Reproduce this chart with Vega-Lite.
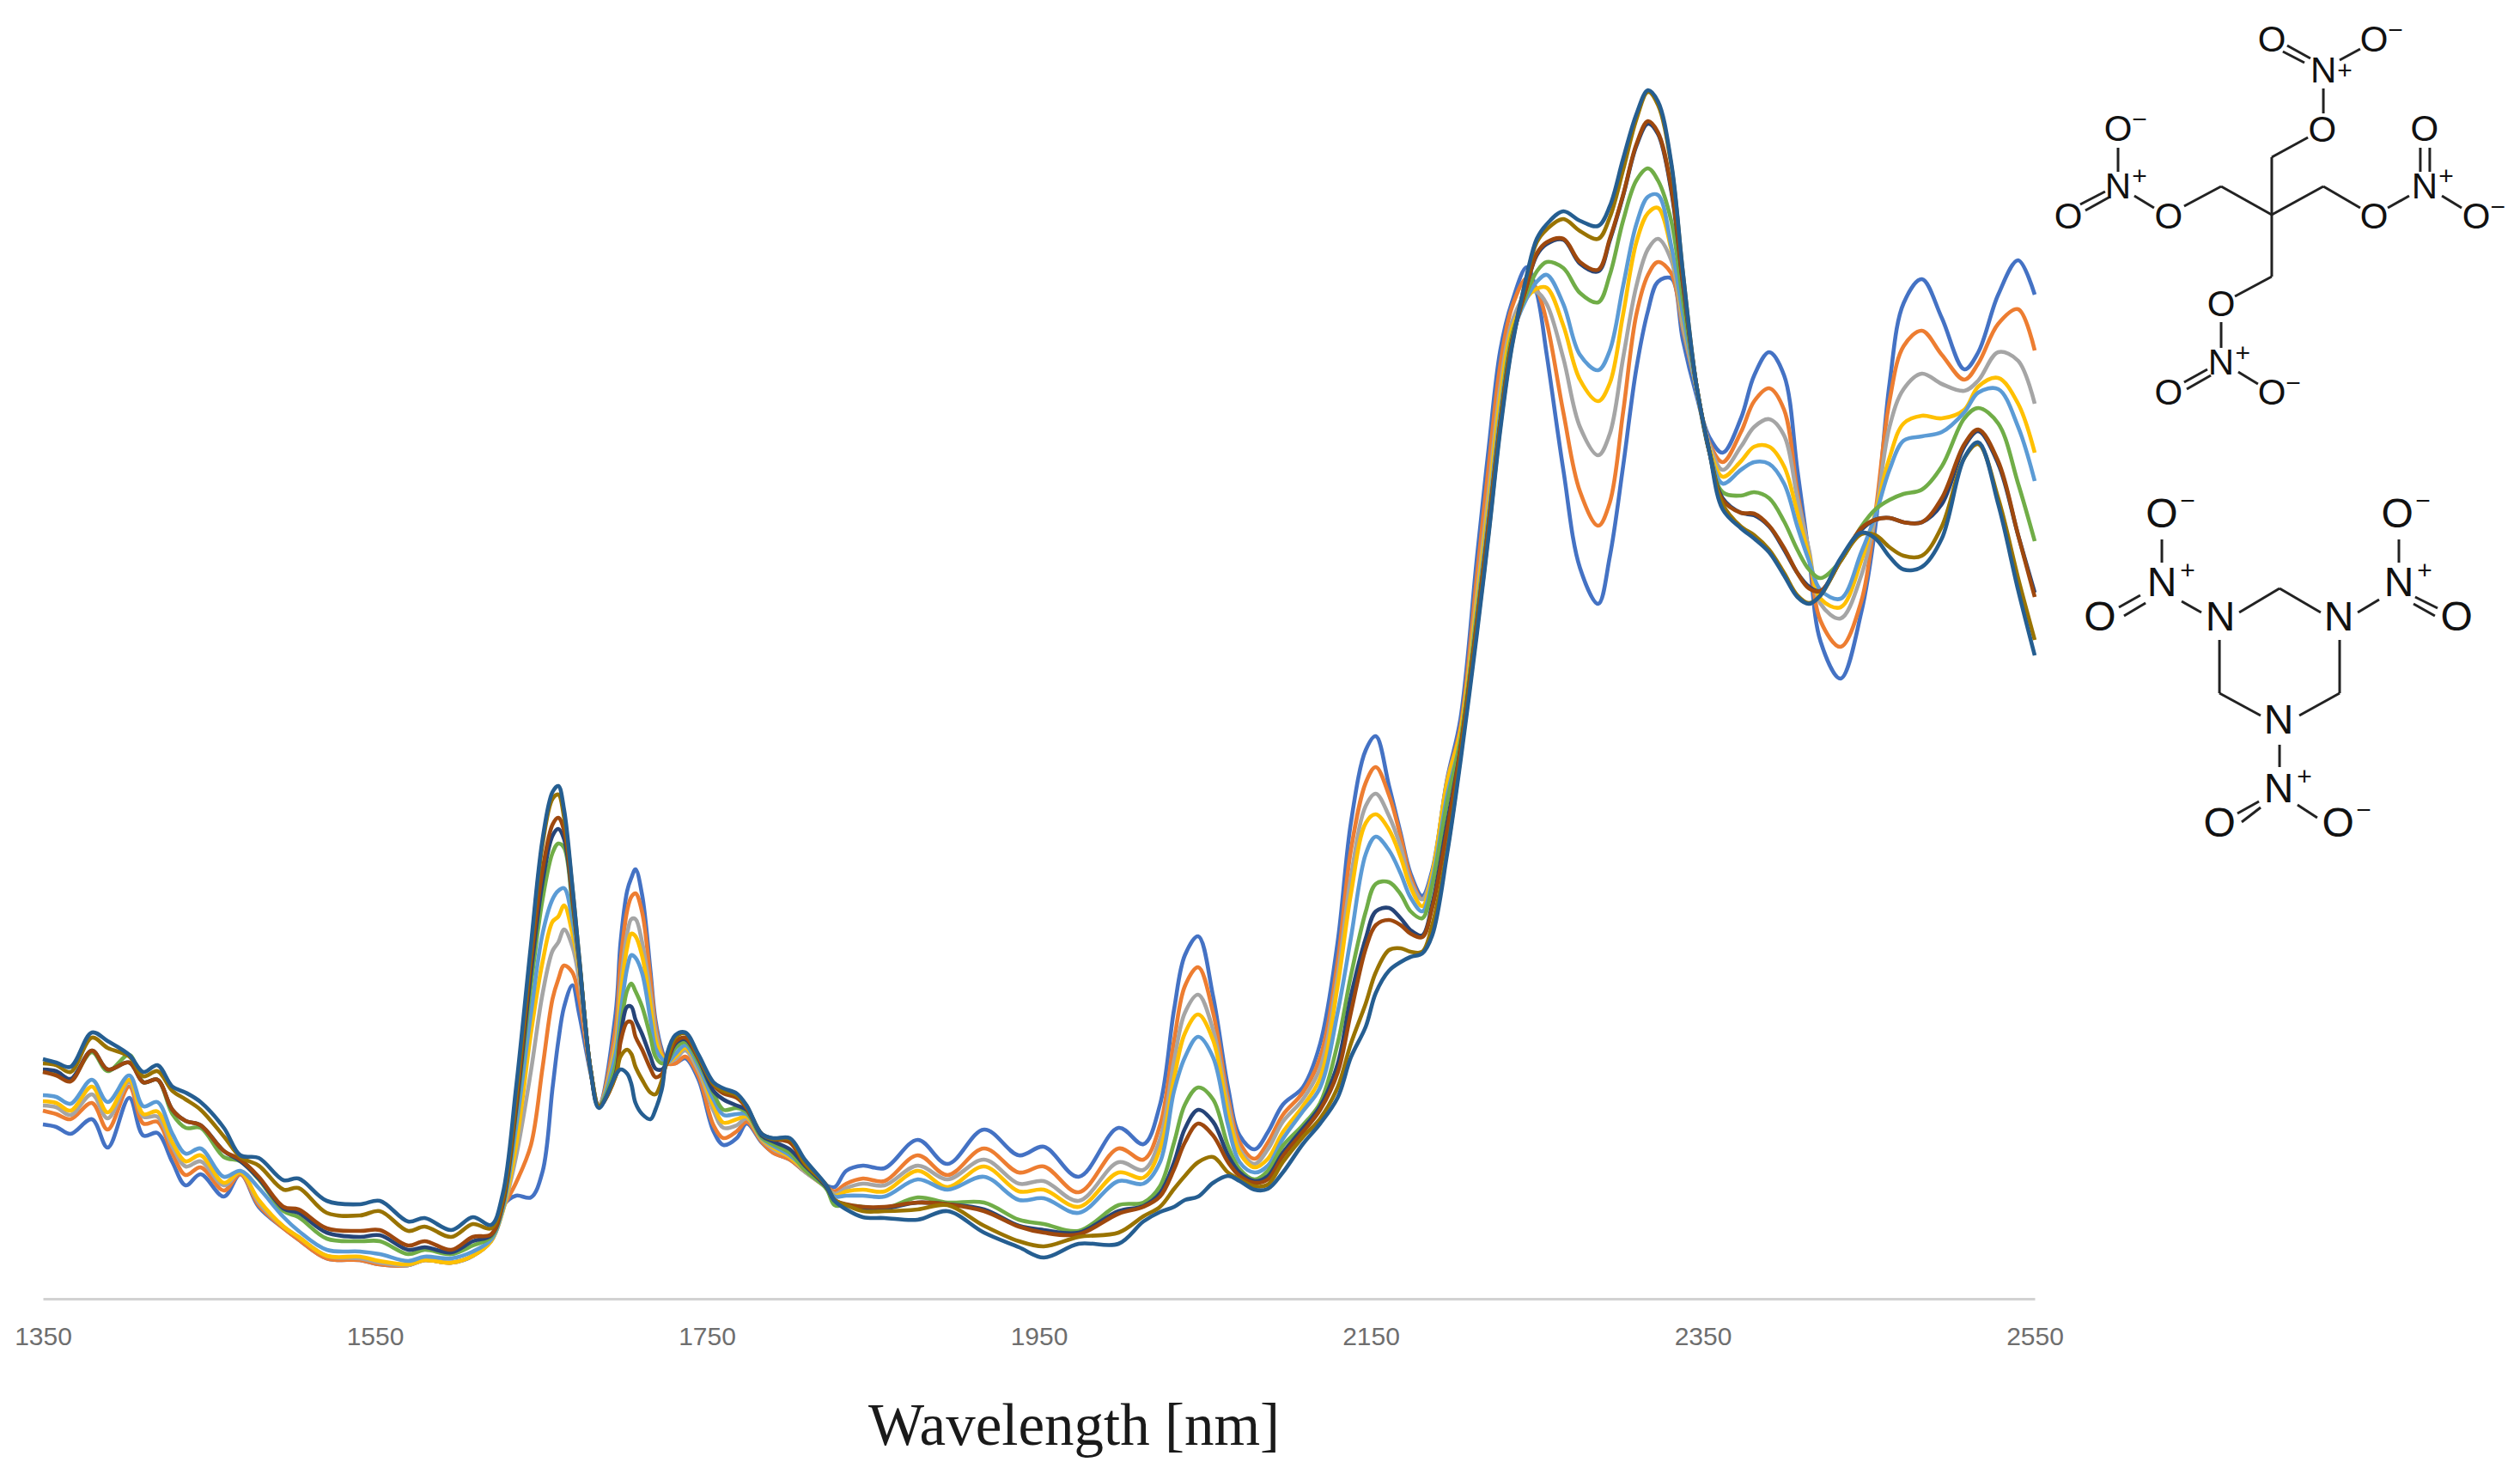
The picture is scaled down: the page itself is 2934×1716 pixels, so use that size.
{
"$schema":"https://vega.github.io/schema/vega-lite/v6.json",
"autosize":{"type":"none"},
"padding":{"left":50,"top":0,"right":565,"bottom":204},
"width":2319,"height":1512,
"background":"white",
"config":{"view":{"stroke":null}},
"datasets":{
"spectra":[
{"w":1350,"a":203,"b":219,"c":225,"d":230,"e":237,"f":265,"g":267,"h":264,"j":274,"k":279},
{"w":1358,"a":200,"b":215,"c":223,"d":228,"e":235,"f":262,"g":265,"h":260,"j":272,"k":275},
{"w":1366.6,"a":192,"b":209,"c":214,"d":219,"e":227,"f":255,"g":256,"h":253,"j":264,"k":270},
{"w":1379.5,"a":209,"b":228,"c":238,"d":247,"e":255,"f":287,"g":289,"h":289,"j":304,"k":310},
{"w":1389,"a":176,"b":197,"c":210,"d":217,"e":229,"f":265,"g":267,"h":267,"j":292,"k":300},
{"w":1402,"a":234,"b":247,"c":252,"d":255,"e":260,"f":284,"g":275,"h":275,"j":282,"k":284},
{"w":1410.5,"a":190,"b":204,"c":212,"d":215,"e":224,"f":252,"g":252,"h":252,"j":259,"k":264},
{"w":1419,"a":193,"b":206,"c":212,"d":218,"e":229,"f":255,"g":255,"h":255,"j":265,"k":272},
{"w":1428,"a":159,"b":169,"c":177,"d":182,"e":192,"f":215,"g":220,"h":220,"j":242,"k":247},
{"w":1436,"a":132,"b":144,"c":154,"d":160,"e":169,"f":199,"g":207,"h":207,"j":232,"k":240},
{"w":1445,"a":145,"b":153,"c":160,"d":167,"e":175,"f":199,"g":202,"h":202,"j":220,"k":229},
{"w":1459,"a":119,"b":126,"c":132,"d":135,"e":142,"f":165,"g":172,"h":172,"j":189,"k":199},
{"w":1469,"a":145,"b":145,"c":147,"d":147,"e":149,"f":160,"g":160,"h":162,"j":165,"k":167},
{"w":1480,"a":107,"b":109,"c":112,"d":115,"e":129,"f":139,"g":140,"h":142,"j":155,"k":164},
{"w":1495,"a":82,"b":82,"c":84,"d":84,"e":95,"f":102,"g":105,"h":107,"j":127,"k":138},
{"w":1504,"a":69,"b":69,"c":72,"d":72,"e":79,"f":95,"g":100,"h":104,"j":129,"k":140},
{"w":1521,"a":47,"b":47,"c":50,"d":50,"e":57,"f":70,"g":77,"h":82,"j":100,"k":114},
{"w":1541,"a":45,"b":45,"c":47,"d":49,"e":55,"f":67,"g":72,"h":79,"j":97,"k":110},
{"w":1553,"a":40,"b":40,"c":42,"d":44,"e":52,"f":67,"g":74,"h":80,"j":102,"k":114},
{"w":1570,"a":39,"b":39,"c":39,"d":40,"e":44,"f":52,"g":57,"h":62,"j":79,"k":90},
{"w":1580,"a":45,"b":45,"c":45,"d":45,"e":49,"f":57,"g":60,"h":67,"j":84,"k":94},
{"w":1596,"a":42,"b":42,"c":42,"d":42,"e":47,"f":52,"g":54,"h":57,"j":72,"k":80},
{"w":1609,"a":50,"b":50,"c":50,"d":50,"e":55,"f":62,"g":67,"h":72,"j":87,"k":95},
{"w":1620,"a":72,"b":67,"c":67,"d":67,"e":69,"f":72,"g":74,"h":75,"j":82,"k":86},
{"w":1627,"a":108,"b":105,"c":102,"d":102,"e":104,"f":108,"g":110,"h":112,"j":117,"k":122},
{"w":1635,"a":120,"b":135,"c":165,"d":178,"e":199,"f":215,"g":219,"h":225,"j":235,"k":245},
{"w":1644,"a":118,"b":179,"c":265,"d":309,"e":332,"f":365,"g":379,"h":392,"j":405,"k":412},
{"w":1651,"a":148,"b":269,"c":355,"d":392,"e":425,"f":465,"g":485,"h":499,"j":529,"k":535},
{"w":1657,"a":245,"b":349,"c":405,"d":439,"e":465,"f":519,"g":539,"h":552,"j":582,"k":590},
{"w":1660.5,"a":300,"b":372,"c":415,"d":445,"e":475,"f":530,"g":547,"h":560,"j":587,"k":597},
{"w":1664,"a":340,"b":388,"c":430,"d":458,"e":478,"f":525,"g":535,"h":545,"j":560,"k":569},
{"w":1669,"a":365,"b":380,"c":410,"d":425,"e":440,"f":458,"g":465,"h":468,"j":478,"k":480},
{"w":1673,"a":332,"b":350,"c":372,"d":385,"e":390,"f":395,"g":395,"h":395,"j":399,"k":399},
{"w":1680,"a":262,"b":264,"c":266,"d":266,"e":266,"f":266,"g":266,"h":266,"j":266,"k":265},
{"w":1685,"a":224,"b":224,"c":224,"d":224,"e":224,"f":224,"g":224,"h":224,"j":224,"k":222},
{"w":1695,"a":332,"b":315,"c":299,"d":292,"e":285,"f":272,"g":262,"h":259,"j":259,"k":260},
{"w":1698,"a":415,"b":392,"c":365,"d":352,"e":332,"f":315,"g":305,"h":299,"j":282,"k":267},
{"w":1702,"a":475,"b":452,"c":425,"d":409,"e":385,"f":359,"g":340,"h":322,"j":290,"k":262},
{"w":1704.5,"a":490,"b":468,"c":442,"d":425,"e":400,"f":367,"g":340,"h":322,"j":285,"k":250},
{"w":1707,"a":500,"b":472,"c":442,"d":422,"e":397,"f":358,"g":325,"h":305,"j":270,"k":228},
{"w":1711,"a":470,"b":450,"c":415,"d":399,"e":379,"f":340,"g":308,"h":290,"j":255,"k":215},
{"w":1716,"a":382,"b":372,"c":355,"d":342,"e":325,"f":305,"g":282,"h":268,"j":240,"k":209},
{"w":1719,"a":325,"b":319,"c":312,"d":302,"e":292,"f":282,"g":268,"h":258,"j":238,"k":220},
{"w":1723,"a":289,"b":285,"c":282,"d":282,"e":279,"f":274,"g":267,"h":262,"j":255,"k":245},
{"w":1726,"a":275,"b":274,"c":275,"d":275,"e":275,"f":276,"g":275,"h":275,"j":278,"k":285},
{"w":1731,"a":274,"b":274,"c":279,"d":282,"e":285,"f":292,"g":297,"h":299,"j":304,"k":307},
{"w":1737,"a":280,"b":282,"c":289,"d":292,"e":295,"f":299,"g":302,"h":304,"j":309,"k":310},
{"w":1745,"a":255,"b":259,"c":265,"d":269,"e":270,"f":275,"g":279,"h":280,"j":282,"k":284},
{"w":1754,"a":195,"b":202,"c":219,"d":225,"e":232,"f":239,"g":242,"h":249,"j":250,"k":252},
{"w":1760,"a":179,"b":187,"c":199,"d":205,"e":214,"f":220,"g":232,"h":239,"j":242,"k":245},
{"w":1768,"a":187,"b":195,"c":202,"d":209,"e":215,"f":222,"g":225,"h":234,"j":237,"k":239},
{"w":1774,"a":204,"b":206,"c":210,"d":212,"e":215,"f":217,"g":220,"h":222,"j":224,"k":225},
{"w":1783,"a":182,"b":183,"c":185,"d":186,"e":187,"f":188,"g":190,"h":192,"j":192,"k":192},
{"w":1790,"a":170,"b":170,"c":174,"d":176,"e":178,"f":180,"g":183,"h":186,"j":186,"k":187},
{"w":1800,"a":162,"b":162,"c":165,"d":165,"e":167,"f":170,"g":174,"h":182,"j":186,"k":187},
{"w":1809,"a":148,"b":148,"c":148,"d":150,"e":152,"f":150,"g":155,"h":157,"j":158,"k":162},
{"w":1822,"a":132,"b":130,"c":130,"d":130,"e":130,"f":128,"g":130,"h":132,"j":132,"k":132},
{"w":1827,"a":130,"b":125,"c":122,"d":120,"e":119,"f":109,"g":114,"h":115,"j":115,"k":114},
{"w":1834,"a":149,"b":134,"c":129,"d":125,"e":120,"f":109,"g":109,"h":110,"j":109,"k":104},
{"w":1844,"a":155,"b":140,"c":134,"d":127,"e":120,"f":107,"g":105,"h":107,"j":102,"k":95},
{"w":1857,"a":152,"b":137,"c":132,"d":125,"e":119,"f":105,"g":105,"h":107,"j":102,"k":94},
{"w":1877,"a":185,"b":167,"c":155,"d":149,"e":139,"f":118,"g":112,"h":112,"j":104,"k":92},
{"w":1895,"a":157,"b":144,"c":139,"d":130,"e":127,"f":112,"g":110,"h":110,"j":109,"k":102},
{"w":1917,"a":197,"b":175,"c":162,"d":154,"e":142,"f":112,"g":104,"h":102,"j":85,"k":77},
{"w":1938,"a":167,"b":147,"c":134,"d":125,"e":115,"f":92,"g":85,"h":84,"j":67,"k":60},
{"w":1953,"a":177,"b":154,"c":137,"d":127,"e":117,"f":87,"g":80,"h":77,"j":61,"k":48},
{"w":1974,"a":142,"b":124,"c":114,"d":107,"e":100,"f":79,"g":77,"h":75,"j":72,"k":64},
{"w":1998,"a":199,"b":175,"c":159,"d":147,"e":137,"f":109,"g":102,"h":99,"j":77,"k":64},
{"w":2013,"a":180,"b":162,"c":150,"d":141,"e":134,"f":112,"g":108,"h":107,"j":96,"k":90},
{"w":2023,"a":226,"b":202,"c":186,"d":174,"e":159,"f":131,"g":123,"h":119,"j":107,"k":101},
{"w":2031.5,"a":337,"b":301,"c":277,"d":257,"e":242,"f":182,"g":159,"h":151,"j":128,"k":107},
{"w":2038,"a":400,"b":364,"c":333,"d":309,"e":281,"f":226,"g":198,"h":182,"j":143,"k":115},
{"w":2046,"a":422,"b":386,"c":354,"d":331,"e":305,"f":246,"g":220,"h":204,"j":159,"k":119},
{"w":2055,"a":352,"b":333,"c":313,"d":301,"e":281,"f":232,"g":206,"h":190,"j":165,"k":135},
{"w":2064,"a":246,"b":234,"c":226,"d":216,"e":202,"f":178,"g":167,"h":159,"j":147,"k":143},
{"w":2071,"a":190,"b":182,"c":174,"d":170,"e":159,"f":151,"g":147,"h":143,"j":139,"k":137},
{"w":2080,"a":174,"b":163,"c":157,"d":153,"e":147,"f":139,"g":137,"h":135,"j":131,"k":127},
{"w":2088,"a":194,"b":182,"c":174,"d":163,"e":155,"f":149,"g":143,"h":139,"j":133,"k":128},
{"w":2097,"a":226,"b":214,"c":206,"d":194,"e":186,"f":178,"g":170,"h":166,"j":159,"k":147},
{"w":2109,"a":246,"b":240,"c":232,"d":224,"e":218,"f":202,"g":198,"h":194,"j":188,"k":180},
{"w":2119.5,"a":297,"b":281,"c":269,"d":257,"e":246,"f":228,"g":224,"h":220,"j":210,"k":204},
{"w":2130,"a":415,"b":392,"c":376,"d":364,"e":333,"f":297,"g":273,"h":263,"j":246,"k":234},
{"w":2138,"a":554,"b":522,"c":491,"d":471,"e":420,"f":376,"g":352,"h":333,"j":297,"k":281},
{"w":2147,"a":639,"b":601,"c":574,"d":554,"e":518,"f":451,"g":420,"h":408,"j":344,"k":317},
{"w":2153,"a":655,"b":619,"c":588,"d":564,"e":538,"f":483,"g":451,"h":435,"j":380,"k":356},
{"w":2161,"a":597,"b":586,"c":562,"d":546,"e":522,"f":485,"g":455,"h":441,"j":406,"k":382},
{"w":2168,"a":542,"b":538,"c":526,"d":514,"e":495,"f":471,"g":443,"h":435,"j":408,"k":392},
{"w":2174,"a":495,"b":491,"c":485,"d":479,"e":467,"f":451,"g":429,"h":425,"j":404,"k":398},
{"w":2181,"a":469,"b":465,"c":465,"d":457,"e":451,"f":443,"g":423,"h":421,"j":404,"k":402},
{"w":2187,"a":499,"b":495,"c":495,"d":495,"e":487,"f":481,"g":459,"h":455,"j":435,"k":423},
{"w":2196,"a":605,"b":603,"c":603,"d":601,"e":586,"f":578,"g":554,"h":546,"j":522,"k":518},
{"w":2204,"a":675,"b":665,"c":660,"d":660,"e":650,"f":650,"g":640,"h":640,"j":630,"k":625},
{"w":2214,"a":864,"b":843,"c":822,"d":813,"e":801,"f":796,"g":788,"h":788,"j":780,"k":775},
{"w":2221,"a":990,"b":969,"c":940,"d":927,"e":914,"f":906,"g":902,"h":902,"j":892,"k":889},
{"w":2228,"a":1104,"b":1087,"c":1062,"d":1049,"e":1032,"f":1024,"g":1020,"h":1020,"j":1015,"k":1011},
{"w":2235,"a":1160,"b":1154,"c":1137,"d":1129,"e":1120,"f":1121,"g":1114,"h":1114,"j":1110,"k":1108},
{"w":2244,"a":1201,"b":1188,"c":1170,"d":1165,"e":1165,"f":1171,"g":1180,"h":1179,"j":1190,"k":1192},
{"w":2250,"a":1171,"b":1175,"c":1172,"d":1176,"e":1184,"f":1196,"g":1215,"h":1217,"j":1230,"k":1234},
{"w":2256,"a":1099,"b":1137,"c":1158,"d":1177,"e":1192,"f":1207,"g":1228,"h":1230,"j":1245,"k":1251},
{"w":2266,"a":965,"b":1032,"c":1095,"d":1133,"e":1158,"f":1200,"g":1233,"h":1234,"j":1257,"k":1266},
{"w":2276,"a":851,"b":940,"c":1015,"d":1070,"e":1099,"f":1171,"g":1205,"h":1207,"j":1243,"k":1255},
{"w":2287,"a":809,"b":900,"c":982,"d":1045,"e":1081,"f":1160,"g":1196,"h":1198,"j":1234,"k":1249},
{"w":2294,"a":864,"b":927,"c":1007,"d":1066,"e":1104,"f":1192,"g":1232,"h":1234,"j":1259,"k":1272},
{"w":2302,"a":969,"b":1032,"c":1095,"d":1146,"e":1179,"f":1255,"g":1284,"h":1285,"j":1314,"k":1327},
{"w":2310,"a":1083,"b":1146,"c":1179,"d":1230,"e":1251,"f":1302,"g":1342,"h":1344,"j":1373,"k":1379},
{"w":2317,"a":1150,"b":1192,"c":1222,"d":1264,"e":1283,"f":1316,"g":1368,"h":1371,"j":1405,"k":1407},
{"w":2323,"a":1184,"b":1207,"c":1234,"d":1270,"e":1285,"f":1302,"g":1356,"h":1358,"j":1390,"k":1394},
{"w":2331,"a":1188,"b":1194,"c":1209,"d":1222,"e":1226,"f":1255,"g":1290,"h":1293,"j":1320,"k":1323},
{"w":2338,"a":1116,"b":1129,"c":1133,"d":1142,"e":1146,"f":1163,"g":1182,"h":1184,"j":1195,"k":1196},
{"w":2346,"a":1053,"b":1062,"c":1062,"d":1062,"e":1062,"f":1066,"g":1066,"h":1066,"j":1066,"k":1066},
{"w":2354,"a":1003,"b":996,"c":994,"d":990,"e":986,"f":986,"g":986,"h":986,"j":986,"k":986},
{"w":2362,"a":985,"b":974,"c":965,"d":957,"e":949,"f":939,"g":932,"h":930,"j":925,"k":919},
{"w":2373,"a":1025,"b":1009,"c":992,"d":975,"e":965,"f":935,"g":915,"h":915,"j":899,"k":897},
{"w":2381,"a":1075,"b":1045,"c":1015,"d":992,"e":974,"f":939,"g":912,"h":914,"j":889,"k":885},
{"w":2390,"a":1102,"b":1060,"c":1024,"d":992,"e":972,"f":932,"g":899,"h":900,"j":872,"k":869},
{"w":2399,"a":1075,"b":1035,"c":1005,"d":969,"e":949,"f":905,"g":872,"h":874,"j":845,"k":842},
{"w":2407,"a":965,"b":939,"c":932,"d":915,"e":899,"f":872,"g":845,"h":845,"j":819,"k":817},
{"w":2414,"a":865,"b":869,"c":872,"d":865,"e":859,"f":849,"g":829,"h":827,"j":810,"k":809},
{"w":2421,"a":765,"b":789,"c":809,"d":815,"e":825,"f":839,"g":824,"h":824,"j":819,"k":819},
{"w":2433,"a":722,"b":759,"c":792,"d":805,"e":815,"f":859,"g":859,"h":859,"j":859,"k":862},
{"w":2445.5,"a":799,"b":812,"c":842,"d":859,"e":869,"f":899,"g":895,"h":897,"j":890,"k":892},
{"w":2454,"a":899,"b":915,"c":912,"d":915,"e":912,"f":919,"g":907,"h":907,"j":889,"k":885},
{"w":2462.5,"a":1065,"b":1045,"c":1015,"d":979,"e":965,"f":930,"g":909,"h":909,"j":875,"k":864},
{"w":2471,"a":1159,"b":1109,"c":1059,"d":1019,"e":999,"f":937,"g":904,"h":904,"j":865,"k":849},
{"w":2482,"a":1187,"b":1127,"c":1077,"d":1028,"e":1004,"f":942,"g":904,"h":904,"j":865,"k":852},
{"w":2494,"a":1142,"b":1099,"c":1065,"d":1025,"e":1009,"f":969,"g":925,"h":932,"j":899,"k":885},
{"w":2507.6,"a":1082,"b":1070,"c":1057,"d":1035,"e":1032,"f":1025,"g":992,"h":995,"j":979,"k":979},
{"w":2516,"a":1102,"b":1089,"c":1069,"d":1062,"e":1055,"f":1037,"g":1010,"h":1012,"j":995,"k":997},
{"w":2528,"a":1169,"b":1135,"c":1102,"d":1072,"e":1059,"f":1019,"g":972,"h":975,"j":932,"k":925},
{"w":2540,"a":1209,"b":1152,"c":1092,"d":1042,"e":1015,"f":949,"g":889,"h":889,"j":839,"k":825},
{"w":2550,"a":1169,"b":1104,"c":1042,"d":985,"e":952,"f":882,"g":822,"h":817,"j":767,"k":749}
],
"bonds":[
{"w":2692.8,"value":1262,"w2":2692.8,"v2":1329},{"w":2692.8,"value":1329,"w2":2714.6,"v2":1352},{"w":2723.9,"value":1380,"w2":2723.9,"v2":1409},
{"w":2716.1,"value":1444,"w2":2702.1,"v2":1459},{"w":2712.5,"value":1439,"w2":2699.5,"v2":1452},{"w":2733.7,"value":1442,"w2":2746.1,"v2":1455},
{"w":2692.8,"value":1262,"w2":2662.3,"v2":1295},{"w":2662.3,"value":1295,"w2":2640,"v2":1272},{"w":2621.9,"value":1270,"w2":2610,"v2":1284},
{"w":2600.2,"value":1312,"w2":2600.2,"v2":1340},{"w":2592.4,"value":1289,"w2":2577.4,"v2":1274},{"w":2594.5,"value":1282,"w2":2580.5,"v2":1267},
{"w":2692.8,"value":1262,"w2":2723.9,"v2":1295},{"w":2723.9,"value":1295,"w2":2746.1,"v2":1270},{"w":2762.7,"value":1270,"w2":2775.6,"v2":1284},
{"w":2782.3,"value":1312,"w2":2782.3,"v2":1340},{"w":2788,"value":1312,"w2":2788,"v2":1340},{"w":2795.3,"value":1284,"w2":2807.2,"v2":1270},
{"w":2692.8,"value":1262,"w2":2692.8,"v2":1190},{"w":2692.8,"value":1190,"w2":2670.6,"v2":1167},{"w":2662.3,"value":1137,"w2":2662.3,"v2":1107},
{"w":2654,"value":1082,"w2":2640,"v2":1067},{"w":2656.1,"value":1075,"w2":2641.6,"v2":1059},{"w":2672.6,"value":1079,"w2":2684.5,"v2":1065},
{"w":2673.2,"value":799,"w2":2697.5,"v2":827},{"w":2697.5,"value":827,"w2":2722.3,"v2":799},{"w":2661.3,"value":767,"w2":2661.3,"v2":705},
{"w":2733.7,"value":767,"w2":2733.7,"v2":705},{"w":2661.3,"value":705,"w2":2686.1,"v2":679},{"w":2733.7,"value":705,"w2":2709.4,"v2":679},
{"w":2650.4,"value":799,"w2":2638.5,"v2":812},{"w":2744.6,"value":799,"w2":2757.5,"v2":814},{"w":2626.6,"value":857,"w2":2626.6,"v2":884},
{"w":2769.4,"value":857,"w2":2769.4,"v2":884},{"w":2613.6,"value":819,"w2":2600.7,"v2":805},{"w":2616.8,"value":810,"w2":2603.8,"v2":795},
{"w":2779.2,"value":817,"w2":2792.7,"v2":804},{"w":2778.2,"value":809,"w2":2791.1,"v2":795},{"w":2697.5,"value":645,"w2":2697.5,"v2":619},
{"w":2685.1,"value":579,"w2":2672.1,"v2":565},{"w":2686.1,"value":572,"w2":2674.7,"v2":555},{"w":2708.3,"value":575,"w2":2720.2,"v2":560}
],
"petn":[
{"t":"O","w":2723.3,"value":1360},{"t":"N","w":2723.9,"value":1429},{"t":"O","w":2692.8,"value":1465},{"t":"O","w":2754.4,"value":1465},
{"t":"O","w":2630.7,"value":1259},{"t":"N","w":2600.2,"value":1294},{"t":"O","w":2600.2,"value":1361},{"t":"O","w":2570.2,"value":1259},
{"t":"O","w":2754.4,"value":1259},{"t":"N","w":2784.9,"value":1294},{"t":"O","w":2784.9,"value":1361},{"t":"O","w":2816,"value":1259},
{"t":"O","w":2662.3,"value":1157},{"t":"N","w":2662.3,"value":1089},{"t":"O","w":2630.7,"value":1054},{"t":"O","w":2692.8,"value":1054}
],
"rdx":[
{"t":"N","w":2661.8,"value":792},{"t":"N","w":2733.2,"value":792},{"t":"N","w":2697,"value":672},
{"t":"N","w":2626.6,"value":832},{"t":"O","w":2626.6,"value":912},{"t":"O","w":2589.3,"value":792},
{"t":"N","w":2769.4,"value":832},{"t":"O","w":2768.4,"value":912},{"t":"O","w":2804.1,"value":792},
{"t":"N","w":2697,"value":592},{"t":"O","w":2661.3,"value":552},{"t":"O","w":2732.7,"value":552}
],
"charges":[
{"t":"−","w":2767.4,"value":1476},{"t":"+","w":2736.8,"value":1429},{"t":"−","w":2613.2,"value":1372},{"t":"+","w":2613.2,"value":1306},
{"t":"+","w":2797.9,"value":1306},{"t":"−","w":2829,"value":1270},{"t":"+","w":2675.3,"value":1100},{"t":"−","w":2705.8,"value":1065},
{"t":"+","w":2642.1,"value":847},{"t":"−","w":2642.1,"value":928},{"t":"+","w":2784.9,"value":847},{"t":"−","w":2783.9,"value":928},
{"t":"+","w":2712.5,"value":607},{"t":"−","w":2748.2,"value":568}
]
},
"encoding":{
"x":{"field":"w","type":"quantitative","scale":{"domain":[1350,2550],"nice":false,"zero":false},
"axis":{"title":"Wavelength [nm]","titleFont":"Liberation Serif","titleFontSize":69,"titleFontWeight":"normal","titleColor":"#1a1a1a","titleX":1200,"titleY":148,"titleBaseline":"middle","values":[1350,1550,1750,1950,2150,2350,2550],"format":"d","grid":false,"ticks":false,"domainColor":"#d2d2d2","domainWidth":3,"labelFont":"Liberation Sans","labelFontSize":30,"labelColor":"#6e6e6e","labelPadding":29,"labelBaseline":"top","labelFlush":false,"labelBound":false,"labelOverlap":false}},
"y":{"field":"value","type":"quantitative","scale":{"domain":[0,1512],"nice":false,"zero":false},"axis":null}
},
"layer":[
{
"data":{"name":"spectra"},
"transform":[{"fold":["a","b","c","d","e","f","g","h","j","k"],"as":["series","value"]}],
"mark":{"type":"line","interpolate":"catmull-rom","clip":false},
"encoding":{
"color":{"field":"series","type":"nominal","legend":null,"scale":{"domain":["a","b","c","d","e","f","g","h","j","k"],"range":["#4472C4","#ED7D31","#A5A5A5","#FFC000","#5B9BD5","#70AD47","#264478","#9E480E","#997300","#255E91"]}},
"strokeWidth":{"field":"series","type":"nominal","legend":null,"scale":{"domain":["a","b","c","d","e","f","g","h","j","k"],"range":[4.6,4.6,4.6,4.6,4.6,4.6,5.2,5.8,5.2,5.4]}}
}
},
{
"data":{"name":"bonds"},
"mark":{"type":"rule","color":"#222222","strokeWidth":3,"clip":false},
"encoding":{"x2":{"field":"w2"},"y2":{"field":"v2"}}
},
{
"data":{"name":"petn"},
"mark":{"type":"text","font":"Liberation Sans","fontSize":42,"color":"#111111","align":"center","baseline":"middle","clip":false},
"encoding":{"text":{"field":"t"}}
},
{
"data":{"name":"rdx"},
"mark":{"type":"text","font":"Liberation Sans","fontSize":48,"color":"#111111","align":"center","baseline":"middle","clip":false},
"encoding":{"text":{"field":"t"}}
},
{
"data":{"name":"charges"},
"mark":{"type":"text","font":"Liberation Sans","fontSize":30,"color":"#111111","align":"center","baseline":"middle","clip":false},
"encoding":{"text":{"field":"t"}}
}
]
}
